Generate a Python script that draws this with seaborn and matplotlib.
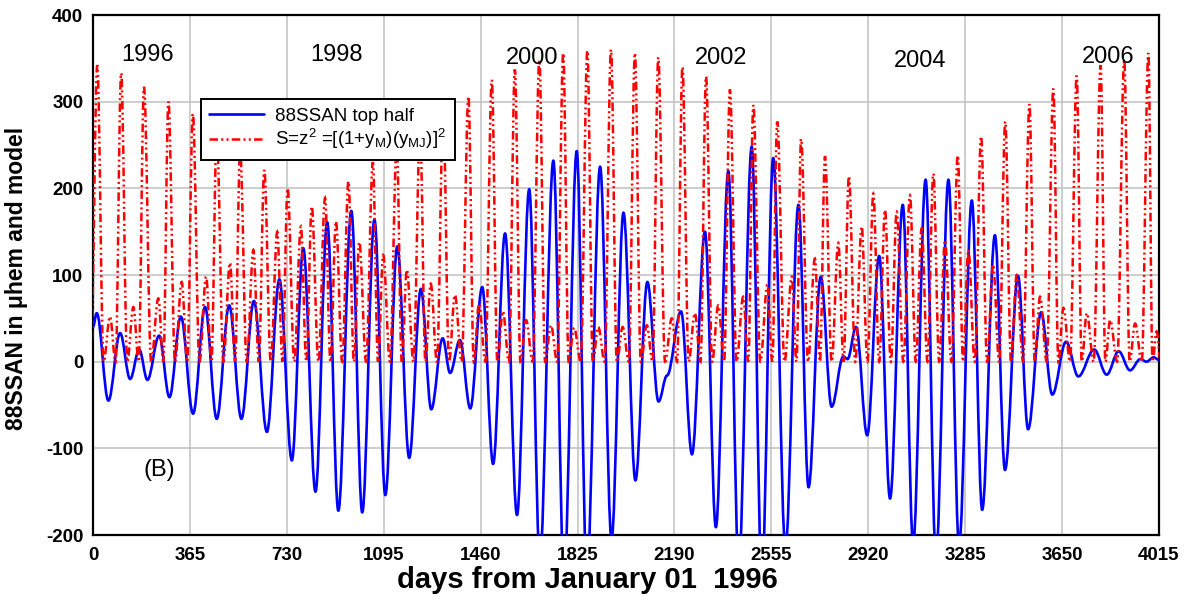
import matplotlib
matplotlib.use("Agg")
import matplotlib.pyplot as plt
from matplotlib.path import Path
from matplotlib.patches import PathPatch
from matplotlib.lines import Line2D
import seaborn as sns

# 88SSAN top half: successive turning points of the curve (day, value)
ssan_day = [0, 14, 58, 102, 140, 174, 205, 249, 288, 331, 377, 422, 466, 513, 559,
            606, 655, 702, 749, 792, 838, 882, 924, 973, 1014, 1060, 1101, 1146, 1191,
            1235, 1274, 1317, 1345, 1382, 1421, 1466, 1507, 1552, 1597, 1643, 1683,
            1734, 1774, 1822, 1860, 1910, 1953, 1998, 2043, 2088, 2130, 2162, 2215,
            2256, 2305, 2346, 2393, 2432, 2481, 2519, 2562, 2608, 2657, 2695, 2741,
            2782, 2826, 2842, 2874, 2916, 2961, 3002, 3050, 3089, 3136, 3175, 3222,
            3262, 3310, 3349, 3397, 3435, 3484, 3522, 3571, 3613, 3665, 3711, 3771,
            3818, 3863, 3906, 3945, 3968, 3995, 4015]
ssan_val = [40, 56, -45, 33, -20, 14, -21, 30, -41, 52, -60, 63, -66, 65, -66,
            70, -81, 95, -114, 131, -150, 161, -172, 174, -174, 164, -154, 133, -111,
            84, -55, 27, -13, 25, -54, 86, -118, 148, -177, 199, -228,
            232, -250, 243, -245, 225, -205, 172, -137, 92, -46, -16, 58,
            -107, 150, -191, 220, -235, 248, -250, 235, -215, 181, -145, 98,
            -52, 6, 3, 40, -85, 122, -158, 181, -210, 210, -225, 210,
            -212, 186, -171, 146, -125, 99, -78, 57, -38, 23, -17, 14,
            -15, 12, -10, 3, 0, 5, 2]

# S = z^2 model: two interleaved families of spikes, S touches zero between them
spike_a_day = [16, 106, 192, 284, 376, 466, 554, 645, 733, 824, 915, 1003, 1093, 1182,
               1272, 1363, 1454, 1544, 1631, 1725, 1812, 1903, 1995, 2086, 2180, 2267,
               2355, 2449, 2540, 2632, 2719, 2807, 2895, 2983, 3077, 3165, 3257, 3345,
               3436, 3527, 3617, 3705, 3795, 3884, 3975]
spike_a_val = [342, 333, 317, 300, 286, 264, 243, 221, 200, 179, 162, 138, 123, 106,
               90, 77, 67, 58, 48, 42, 39, 40, 40, 42, 50, 56,
               65, 75, 89, 98, 119, 137, 156, 175, 192, 217, 238, 260,
               277, 297, 315, 330, 342, 348, 356]
spike_b_day = [64, 152, 246, 334, 426, 516, 604, 694, 783, 874, 962, 1054, 1144, 1232,
               1319, 1414, 1502, 1589, 1681, 1771, 1862, 1951, 2041, 2129, 2220, 2309,
               2399, 2487, 2577, 2667, 2757, 2847, 2939, 3027, 3121, 3209, 3297, 3390,
               3479, 3567, 3655, 3743, 3831, 3925, 4006]
spike_b_val = [52, 63, 73, 92, 98, 114, 129, 150, 156, 189, 208, 230, 250, 268,
               287, 306, 325, 337, 348, 356, 359, 360, 356, 351, 340, 329,
               314, 296, 277, 257, 237, 214, 194, 173, 154, 140, 129, 112,
               100, 75, 62, 56, 48, 44, 35]

year_labels = ["1996", "1998", "2000", "2002", "2004", "2006"]
year_day = [205, 916, 1653, 2367, 3115, 3822]
year_val = [354, 354, 350, 350, 347, 352]

x_ticks = [0, 365, 730, 1095, 1460, 1825, 2190, 2555, 2920, 3285, 3650, 4015]
y_ticks = [-200, -100, 0, 100, 200, 300, 400]

series_names = ["88SSAN top half",
                r"S=z$^2$ =[(1+y$_{\rm M}$)(y$_{\rm MJ}$)]$^2$"]

sns.set_theme(style="whitegrid")
plt.rcParams["font.family"] = ["Liberation Sans", "DejaVu Sans"]
plt.rcParams["mathtext.default"] = "regular"
plt.rcParams["mathtext.fontset"] = "custom"
plt.rcParams["mathtext.rm"] = "Liberation Sans"
plt.rcParams["axes.unicode_minus"] = False
plt.rcParams["text.color"] = "black"
plt.rcParams["axes.labelcolor"] = "black"
plt.rcParams["xtick.color"] = "black"
plt.rcParams["ytick.color"] = "black"


def smooth_path(xs, ys, k=0.3642):
    """Cubic curve through turning points, flat at every turning point."""
    verts = [(xs[0], ys[0])]
    codes = [Path.MOVETO]
    for x0, y0, x1, y1 in zip(xs[:-1], ys[:-1], xs[1:], ys[1:]):
        dx = x1 - x0
        verts += [(x0 + k * dx, y0), (x1 - k * dx, y1), (x1, y1)]
        codes += [Path.CURVE4] * 3
    return Path(verts, codes)


# merge the two spike families and put the zero touches between neighbours
spikes = sorted(zip(spike_a_day + spike_b_day, spike_a_val + spike_b_val))
s_day, s_val = [], []
first_gap = spikes[1][0] - spikes[0][0]
s_day.append(spikes[0][0] - first_gap / 2)
s_val.append(0)
for i, (d, v) in enumerate(spikes):
    s_day.append(d)
    s_val.append(v)
    if i + 1 < len(spikes):
        s_day.append((d + spikes[i + 1][0]) / 2)
    else:
        s_day.append(d + (d - spikes[i - 1][0]) / 2)
    s_val.append(0)

fig = plt.figure(figsize=(11.92, 5.96), dpi=100)
ax = fig.add_axes([93 / 1192, 1 - 535 / 596, 1066 / 1192, 520 / 596])

blue = "#0000ff"
red = "#ff0000"
red_dash = (0, (3.4, 1.3, 0.8, 1.3, 0.8, 1.3))

ax.add_patch(PathPatch(smooth_path(ssan_day, ssan_val), fill=False,
                       edgecolor=blue, linewidth=1.9, zorder=3,
                       capstyle="round", joinstyle="round"))
ax.add_patch(PathPatch(smooth_path(s_day, s_val), fill=False,
                       edgecolor=red, linewidth=1.8, linestyle=red_dash, zorder=4))

ax.set_xlim(0, 4015)
ax.set_ylim(-200, 400)
ax.set_xticks(x_ticks)
ax.set_yticks(y_ticks)
ax.grid(True, color="#c0c0c0", linewidth=1.1)
ax.set_axisbelow(True)
ax.set_facecolor("white")
for sp in ax.spines.values():
    sp.set_visible(True)
    sp.set_color("black")
    sp.set_linewidth(1.6)
ax.tick_params(axis="both", length=0, labelsize=13.5, colors="black")
ax.tick_params(axis="y", pad=7)
ax.tick_params(axis="x", pad=9)
for lab in ax.get_xticklabels() + ax.get_yticklabels():
    lab.set_fontweight("bold")

for txt, d, v in zip(year_labels, year_day, year_val):
    ax.text(d, v, txt, fontsize=17, ha="center", va="center", color="black", zorder=5)
ax.text(249, -125, "(B)", fontsize=17, ha="center", va="center", color="black", zorder=5)

handles = [Line2D([], [], color=blue, linewidth=1.9),
           Line2D([], [], color=red, linewidth=1.8, linestyle=red_dash)]
leg = ax.legend(handles, series_names, loc="upper left",
                bbox_to_anchor=(0.1013, 0.8385), fontsize=13.5, frameon=True,
                fancybox=False, framealpha=1, edgecolor="black",
                handlelength=2.9, handletextpad=0.6, labelspacing=0.15,
                borderpad=0.45, borderaxespad=0)
leg.get_frame().set_linewidth(1.4)
leg.set_zorder(6)

fig.text(17 / 1192, 1 - 278 / 596, "88SSAN in \u03bchem and model", rotation=90,
         ha="center", va="center", fontsize=16.5, fontweight="bold")
fig.text(587 / 1192, 1 - 580 / 596, "days from January 01  1996",
         ha="center", va="center", fontsize=21, fontweight="bold")

fig.savefig("out.png", dpi=100, facecolor="white")
